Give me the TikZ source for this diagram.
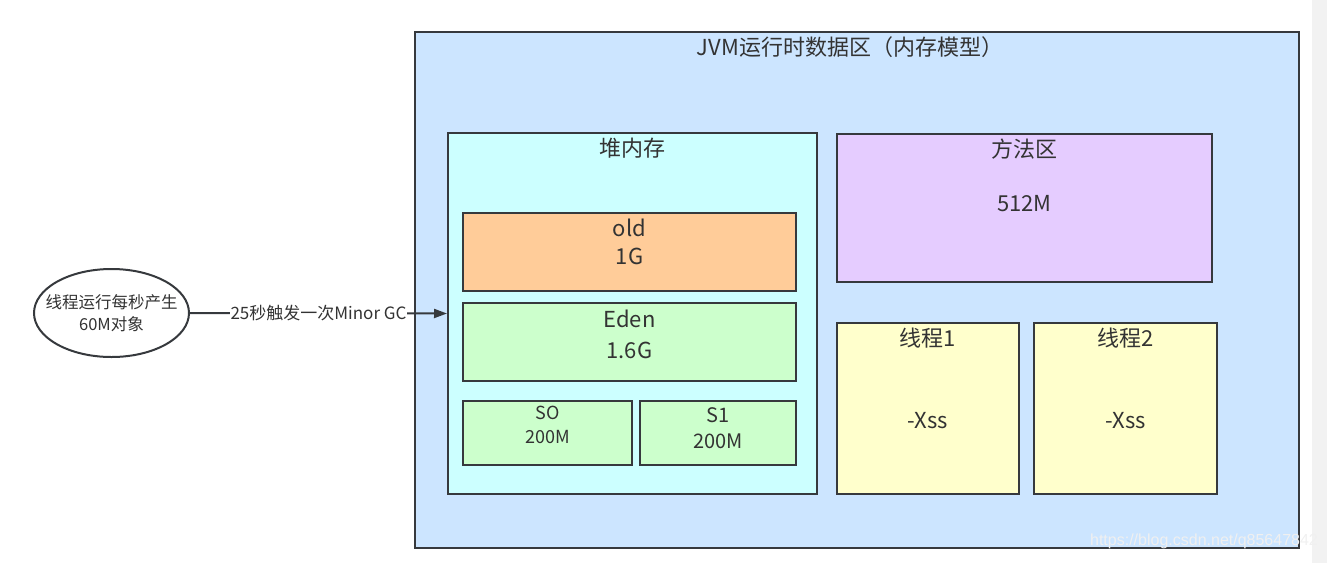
\documentclass[tikz,border=0pt]{standalone}
\usepackage{fontspec}
\setmainfont{Noto Sans CJK SC}
\newfontfamily\wmfont{Liberation Sans}
\usetikzlibrary{arrows.meta, shapes.geometric}

\definecolor{bordo}{HTML}{36393D}
\definecolor{testocol}{HTML}{333333}
\definecolor{jvmblu}{HTML}{CCE5FF}
\definecolor{heapcol}{HTML}{CCFFFF}
\definecolor{oldcol}{HTML}{FFCC99}
\definecolor{edencol}{HTML}{CCFFCC}
\definecolor{metodocol}{HTML}{E5CCFF}
\definecolor{threadcol}{HTML}{FFFFCC}
\definecolor{stripcol}{HTML}{F2F2F2}

\tikzset{
  area/.style={draw=bordo, line width=2pt, inner sep=0pt},
  testo/.style={text=testocol, inner sep=1pt, align=center},
  grande/.style={testo, font=\fontsize{22}{28}\selectfont},
  piccolo/.style={testo, font=\fontsize{17}{22}\selectfont}
}

\begin{document}
\begin{tikzpicture}[x=1pt, y=-1pt]
  \useasboundingbox (0,0) rectangle (1327,563);
  \fill[stripcol] (1312,0) rectangle (1327,563);

  % JVM
  \node[area, fill=jvmblu, minimum width=884pt, minimum height=516pt] (jvm) at (857,290) {};
  \node[grande] (jvmtitolo) at (850,47) {JVM运行时数据区（内存模型）};

  % heap
  \node[area, fill=heapcol, minimum width=369pt, minimum height=361pt] (heap) at (632.5,313.5) {};
  \node[grande] (heaptitolo) at (632,148) {堆内存};

  \node[area, fill=oldcol, minimum width=333pt, minimum height=78pt] (old) at (629.5,252) {};
  \node[grande] (oldtesto) at (629.5,242) {old\\1G};

  \node[area, fill=edencol, minimum width=333pt, minimum height=78pt] (eden) at (629.5,342) {};
  \node[grande, font=\fontsize{22}{31}\selectfont] (edentesto) at (629.5,334) {Eden\\1.6G};

  \node[area, fill=edencol, minimum width=169pt, minimum height=64pt] (szero) at (547.5,433) {};
  \node[testo, font=\fontsize{18}{24}\selectfont] (szerotesto) at (547.5,425) {SO\\200M};

  \node[area, fill=edencol, minimum width=156pt, minimum height=64pt] (suno) at (718,433) {};
  \node[testo, font=\fontsize{20}{26}\selectfont] (sunotesto) at (718,428) {S1\\200M};

  % metodi
  \node[area, fill=metodocol, minimum width=375pt, minimum height=148pt] (metodo) at (1024.5,208) {};
  \node[grande] (metodotitolo) at (1024.5,149) {方法区};
  \node[grande] (metodotesto) at (1024.5,204) {512M};

  % thread
  \node[area, fill=threadcol, minimum width=182pt, minimum height=171pt] (tuno) at (928,408.5) {};
  \node[grande] (tunotitolo) at (928,338) {线程1};
  \node[grande] (tunotesto) at (928,421) {-Xss};

  \node[area, fill=threadcol, minimum width=183pt, minimum height=171pt] (tdue) at (1125.5,408.5) {};
  \node[grande] (tduetitolo) at (1125.5,338) {线程2};
  \node[grande] (tduetesto) at (1125.5,421) {-Xss};

  % oggetti
  \node[ellipse, draw=bordo, line width=2pt, fill=white, inner sep=0pt,
        minimum width=155pt, minimum height=88pt] (produttore) at (111.5,313) {};
  \node[piccolo, font=\fontsize{16.5}{22}\selectfont] (produttoretesto) at (111.5,313) {线程运行每秒产生\\60M对象};

  \draw[bordo, line width=2pt, -{Triangle[length=13pt, width=9pt]}] (produttore.east) -- (heap.west)
    node[midway, fill=white, inner sep=1pt, piccolo] (gclabel) {25秒触发一次Minor GC};

  % watermark
  \node[text=white!88!gray, font=\wmfont\fontsize{16}{18}\selectfont, inner sep=0pt] (firma) at (1204,541)
    {https://blog.csdn.net/q85647842};
\end{tikzpicture}
\end{document}
